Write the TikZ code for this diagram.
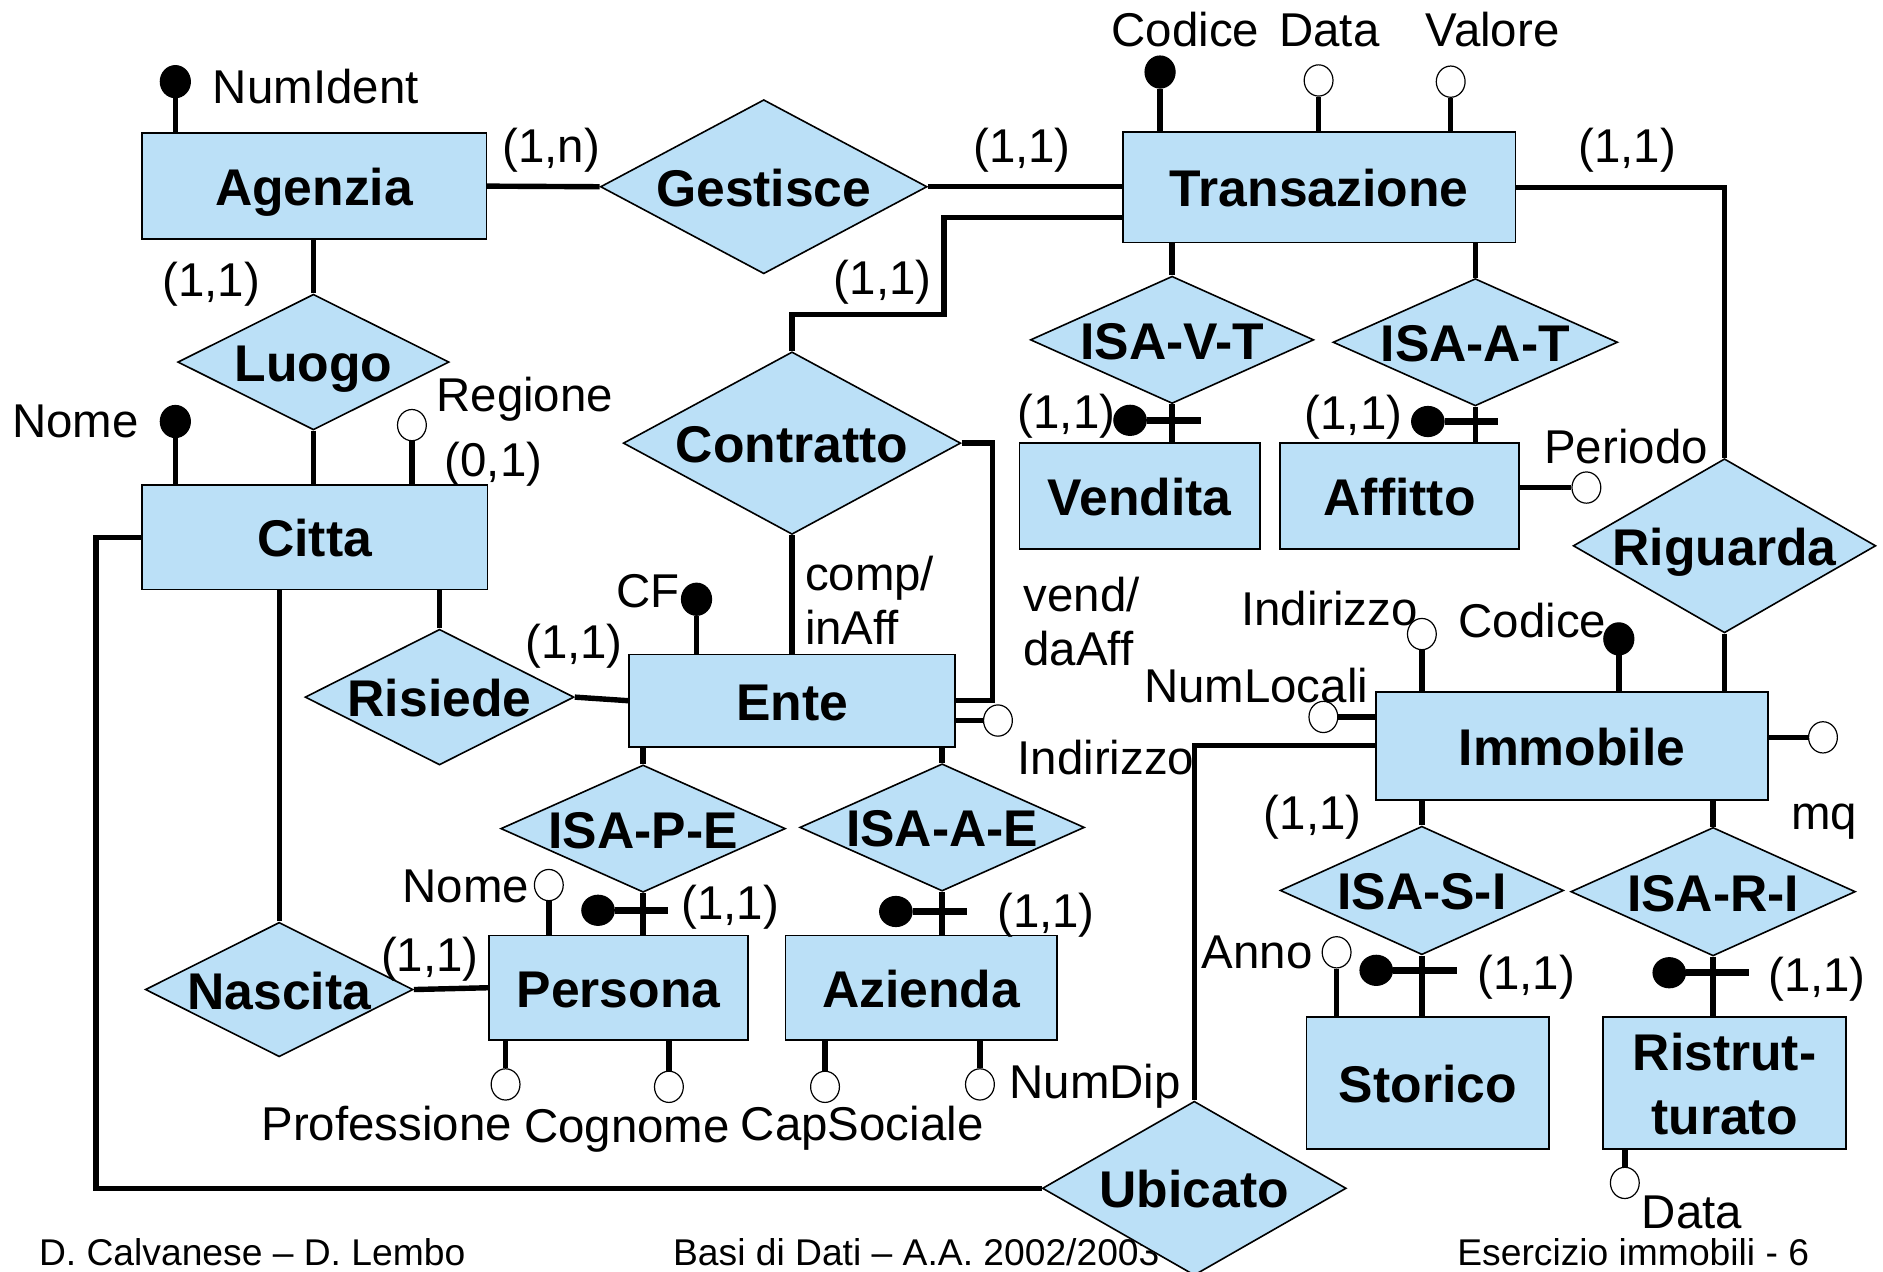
\documentclass[tikz,border=0pt]{standalone}
\usepackage{fontspec}
\setmainfont{Liberation Sans}
\usetikzlibrary{shapes.geometric}
\definecolor{erblue}{RGB}{187,224,247}
\newcommand{\dname}[1]{\makebox[0pt]{#1}}

\begin{document}
\begin{tikzpicture}[x=0.6pt,y=-0.6pt,
    ent/.style={draw,fill=erblue,line width=0.8pt,inner sep=0pt,align=center,
        text height=21pt,text depth=1.5pt,
        font=\fontsize{25.8}{32}\selectfont\bfseries},
    rel/.style={diamond,draw,fill=erblue,line width=0.8pt,inner sep=0pt,
        text height=21pt,text depth=1.5pt,
        font=\fontsize{25.8}{31}\selectfont\bfseries},
    conn/.style={line width=2.7pt},
    bar/.style={line width=3.6pt},
    keyatt/.style={ellipse,draw,fill=black,line width=0.6pt,inner sep=0pt,
        minimum width=15pt,minimum height=16pt},
    isadot/.style={ellipse,draw,fill=black,line width=0.6pt,inner sep=0pt,
        minimum width=16.2pt,minimum height=15pt},
    att/.style={ellipse,draw,fill=white,line width=0.6pt,inner sep=0pt,
        minimum width=14.4pt,minimum height=15.6pt},
    lbl/.style={inner sep=0pt,text height=17.5pt,text depth=0pt,
        font=\fontsize{23.7}{27}\selectfont},
    foot/.style={inner sep=0pt,font=\fontsize{18.6}{22}\selectfont}]

        \useasboundingbox (0,0) rectangle (1568,1059);
        \clip (0,0) rectangle (1568,1059);

        \node[foot] (fauth) at (210,1043) {D. Calvanese -- D. Lembo};
        \node[foot] (fcourse) at (763,1043) {Basi di Dati -- A.A. 2002/2003};
        \node[foot] (fpage) at (1360,1043) {Esercizio immobili - 6};

        \node[ent,minimum width=172.2pt,minimum height=52.8pt] (agenzia) at (261.5,155)  {Agenzia};
        \node[ent,minimum width=196.2pt,minimum height=55.2pt] (trans)   at (1098.5,156) {Transazione};
        \node[ent,minimum width=172.8pt,minimum height=52.2pt] (citta)   at (262,447.5)  {Citta};
        \node[ent,minimum width=120pt,  minimum height=52.8pt] (vend)    at (949,413)    {Vendita};
        \node[ent,minimum width=119.4pt,minimum height=52.8pt] (affi)    at (1165.5,413) {Affitto};
        \node[ent,minimum width=162.6pt,minimum height=46.2pt] (ente)    at (659.5,583.5) {Ente};
        \node[ent,minimum width=195.6pt,minimum height=54pt]   (immob)   at (1309,621)   {Immobile};
        \node[ent,minimum width=129.6pt,minimum height=52.2pt] (pers)    at (515,822.5)  {Persona};
        \node[ent,minimum width=135.6pt,minimum height=52.2pt] (azie)    at (767,822.5)  {Azienda};
        \node[ent,minimum width=121.2pt,minimum height=66pt]   (stor)    at (1189,902)   {Storico};
        \node[ent,minimum width=121.2pt,minimum height=66pt,text height=53pt] (ristr) at (1436,902) {Ristrut-\\turato};

        \node[rel,minimum width=163.2pt,minimum height=87pt]   (gest)  at (636,155.5)   {\dname{Gestisce}};
        \node[rel,minimum width=135.6pt,minimum height=67.8pt] (luogo) at (261,301.5)   {\dname{Luogo}};
        \node[rel,minimum width=168.6pt,minimum height=91.2pt] (contr) at (659.5,369)   {\dname{Contratto}};
        \node[rel,minimum width=141.6pt,minimum height=63.6pt] (isavt) at (976,283)     {\dname{ISA-V-T}};
        \node[rel,minimum width=142.2pt,minimum height=63.6pt] (isaat) at (1228.5,285)  {\dname{ISA-A-T}};
        \node[rel,minimum width=151.2pt,minimum height=87pt]   (rig)   at (1436,454.5)  {\dname{Riguarda}};
        \node[rel,minimum width=134.4pt,minimum height=67.8pt] (ris)   at (366,580.5)   {\dname{Risiede}};
        \node[rel,minimum width=142.2pt,minimum height=63.6pt] (isape) at (535.5,690)   {\dname{ISA-P-E}};
        \node[rel,minimum width=142.2pt,minimum height=63.6pt] (isaae) at (784.5,689)   {\dname{ISA-A-E}};
        \node[rel,minimum width=133.8pt,minimum height=67.2pt] (nasc)  at (232.5,824)   {\dname{Nascita}};
        \node[rel,minimum width=141.6pt,minimum height=64.2pt] (isasi) at (1184,741.5)  {\dname{ISA-S-I}};
        \node[rel,minimum width=142.2pt,minimum height=64.2pt] (isari) at (1426.5,742.5) {\dname{ISA-R-I}};
        \node[rel,minimum width=151.8pt,minimum height=87pt]   (ubic)  at (994.5,989.5) {\dname{Ubicato}};

        \draw[conn] (agenzia.east) -- (gest.west);
        \draw[conn] (gest.east) -- (gest.east -| trans.west);
        \draw[conn] (contr.north) |- (786,262) |- ([yshift=-15pt]trans.west);
        \draw[conn] (trans.east) -| (rig.north);
        \draw[conn] (rig.south) -- (rig.south |- immob.north);
        \draw[conn] (isavt.north) -- (isavt.north |- trans.south);
        \draw[conn] (isaat.north) -- (isaat.north |- trans.south);
        \draw[conn] (isavt.south) -- (isavt.south |- vend.north);
        \draw[conn] (isaat.south) -- (isaat.south |- affi.north);
        \draw[conn] (luogo.north) -- (luogo.north |- agenzia.south);
        \draw[conn] (luogo.south) -- (luogo.south |- citta.north);
        \draw[conn] (citta.west) -| (ubic.west -| 80,0) -- (ubic.west);
        \draw[conn] (nasc.north) -- (nasc.north |- citta.south);
        \draw[conn] (ris.north) -- (ris.north |- citta.south);
        \draw[conn] (ris.east) -- (ente.west);
        \draw[conn] (nasc.east) -- (pers.west);
        \draw[conn] (contr.south) -- (contr.south |- ente.north);
        \draw[conn] (contr.east) -| ([xshift=18.6pt]ente.east) -- (ente.east);
        \draw[conn] (isape.north) -- (isape.north |- ente.south);
        \draw[conn] (isaae.north) -- (isaae.north |- ente.south);
        \draw[conn] (isape.south) -- (isape.south |- pers.north);
        \draw[conn] (isaae.south) -- (isaae.south |- azie.north);
        \draw[conn] (immob.west) -| (ubic.north);
        \draw[conn] (isasi.north) -- (isasi.north |- immob.south);
        \draw[conn] (isari.north) -- (isari.north |- immob.south);
        \draw[conn] (isasi.south) -- (isasi.south |- stor.north);
        \draw[conn] (isari.south) -- (isari.south |- ristr.north);

        \node[keyatt] (numid) at (146,68)   {};
        \node[keyatt] (tcod)  at (966,60)   {};
        \node[att]    (tdata) at (1098,67)  {};
        \node[att]    (tval)  at (1208,68)  {};
        \node[keyatt] (cnome) at (146,351)  {};
        \node[att]    (creg)  at (343,354)  {};
        \node[att]    (aper)  at (1321,406) {};
        \node[keyatt] (ecf)   at (580,499)  {};
        \node[att]    (eind)  at (831,600)  {};
        \node[att]    (pnome) at (457,737)  {};
        \node[att]    (pprof) at (421,903)  {};
        \node[att]    (pcogn) at (557,905)  {};
        \node[att]    (acap)  at (687,905)  {};
        \node[att]    (andip) at (816,903)  {};
        \node[att]    (iind)  at (1184,528) {};
        \node[keyatt] (icod)  at (1348,532) {};
        \node[att]    (inloc) at (1102,597) {};
        \node[att]    (imq)   at (1518,614) {};
        \node[att]    (sanno) at (1113,793) {};
        \node[att]    (rdata) at (1353,985) {};

        \draw[conn] (numid) -- (numid |- agenzia.north);
        \draw[conn] (tcod)  -- (tcod |- trans.north);
        \draw[conn] (tdata) -- (tdata |- trans.north);
        \draw[conn] (tval)  -- (tval |- trans.north);
        \draw[conn] (cnome) -- (cnome |- citta.north);
        \draw[conn] (creg)  -- (creg |- citta.north);
        \draw[conn] (aper)  -- (aper -| affi.east);
        \draw[conn] (ecf)   -- (ecf |- ente.north);
        \draw[conn] (eind)  -- (eind -| ente.east);
        \draw[conn] (pnome) -- (pnome |- pers.north);
        \draw[conn] (pprof) -- (pprof |- pers.south);
        \draw[conn] (pcogn) -- (pcogn |- pers.south);
        \draw[conn] (acap)  -- (acap |- azie.south);
        \draw[conn] (andip) -- (andip |- azie.south);
        \draw[conn] (iind)  -- (iind |- immob.north);
        \draw[conn] (icod)  -- (icod |- immob.north);
        \draw[conn] (inloc) -- (inloc -| immob.west);
        \draw[conn] (imq)   -- (imq -| immob.east);
        \draw[conn] (sanno) -- (sanno |- stor.north);
        \draw[conn] (rdata) -- (rdata |- ristr.south);

        \node[isadot] (vtdot) at (941,350)  {};
        \node[isadot] (atdot) at (1189,351) {};
        \node[isadot] (pedot) at (498,758)  {};
        \node[isadot] (aedot) at (746,759)  {};
        \node[isadot] (sidot) at (1146,808) {};
        \node[isadot] (ridot) at (1390,810) {};
        \draw[bar] (vtdot) -- ++(59,0);
        \draw[bar] (atdot) -- ++(58,0);
        \draw[bar] (pedot) -- ++(58,0);
        \draw[bar] (aedot) -- ++(59,0);
        \draw[bar] (sidot) -- ++(67,0);
        \draw[bar] (ridot) -- ++(66,0);

        \node[lbl] (cgag)  at (459,121)  {(1,n)};
        \node[lbl] (cgtr)  at (851,121)  {(1,1)};
        \node[lbl] (cctr)  at (735,231)  {(1,1)};
        \node[lbl] (crtr)  at (1355,121) {(1,1)};
        \node[lbl] (clag)  at (176,232)  {(1,1)};
        \node[lbl] (cvt)   at (888,342)  {(1,1)};
        \node[lbl] (cat)   at (1127,343) {(1,1)};
        \node[lbl] (creg1) at (411,382)  {(0,1)};
        \node[lbl] (cren)  at (478,534)  {(1,1)};
        \node[lbl] (cpe)   at (608,751)  {(1,1)};
        \node[lbl] (cae)   at (871,758)  {(1,1)};
        \node[lbl] (cnp)   at (358,794)  {(1,1)};
        \node[lbl] (cuim)  at (1093,676) {(1,1)};
        \node[lbl] (csi)   at (1271,809) {(1,1)};
        \node[lbl] (cri)   at (1513,811) {(1,1)};

        \node[lbl,anchor=west] (tnumid) at (177,72)  {NumIdent};
        \node[lbl] (ttcod)  at (987,24)   {Codice};
        \node[lbl] (ttdata) at (1107,24)  {Data};
        \node[lbl] (ttval)  at (1243,24)  {Valore};
        \node[lbl,anchor=east] (tcnome) at (116,350) {Nome};
        \node[lbl] (tcreg)  at (437,328)  {Regione};
        \node[lbl] (taper)  at (1354,371) {Periodo};
        \node[lbl,align=left,anchor=west,text height=44.5pt] (tcomp) at (670,500) {comp/\\inAff};
        \node[lbl,align=left,anchor=west,text height=44.5pt] (tvend) at (852,517) {vend/\\daAff};
        \node[lbl,anchor=east] (tecf) at (566,491) {CF};
        \node[lbl] (teind)  at (921,630)  {Indirizzo};
        \node[lbl,anchor=east] (tpnome) at (441,737) {Nome};
        \node[lbl] (tpprof) at (322,935)  {Professione};
        \node[lbl] (tpcogn) at (522,937)  {Cognome};
        \node[lbl] (tacap)  at (718,935)  {CapSociale};
        \node[lbl] (tandip) at (912,900)  {NumDip};
        \node[lbl] (tiind)  at (1107,506) {Indirizzo};
        \node[lbl] (ticod)  at (1276,516) {Codice};
        \node[lbl] (tinloc) at (1046,570) {NumLocali};
        \node[lbl] (timq)   at (1519,676) {mq};
        \node[lbl] (tsanno) at (1047,792) {Anno};
        \node[lbl] (trdata) at (1409,1008) {Data};
\end{tikzpicture}
\end{document}
